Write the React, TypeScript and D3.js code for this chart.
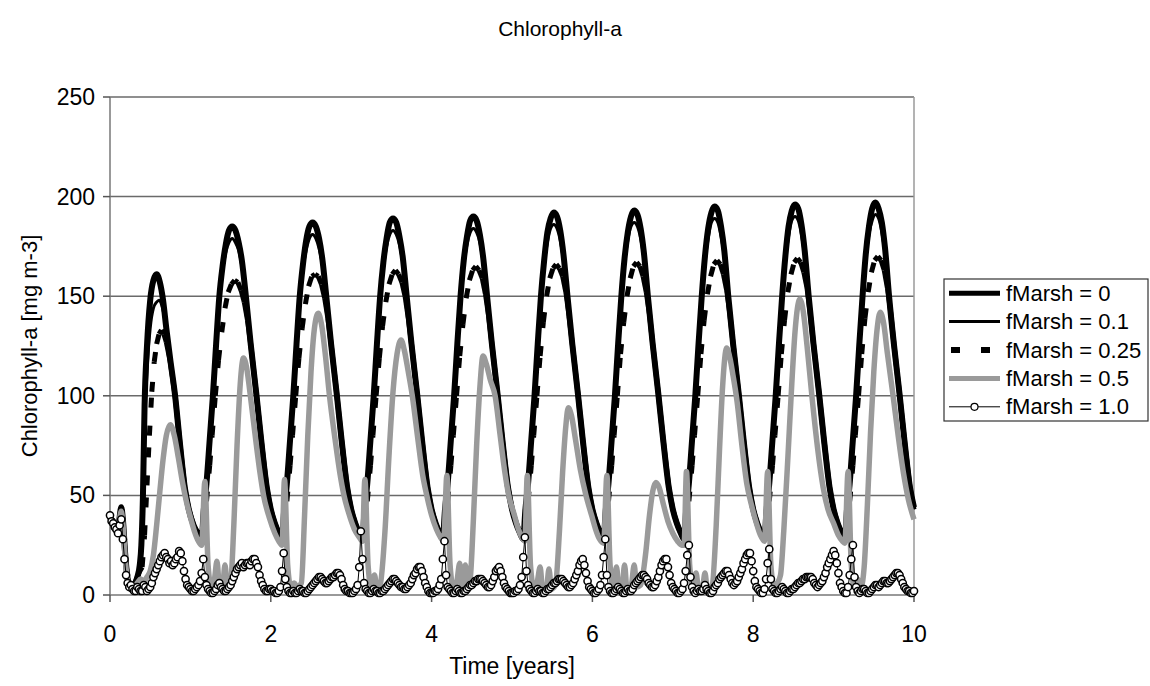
import React from 'react';
import * as d3 from 'd3';

// ---------------- DATA ----------------
const TITLE = 'Chlorophyll-a';
const X_LABEL = 'Time [years]';
const Y_LABEL = 'Chlorophyll-a [mg m-3]';
const X_TICKS = [0, 2, 4, 6, 8, 10];
const Y_TICKS = [0, 50, 100, 150, 200, 250];
const SERIES_NAMES = ['fMarsh = 0', 'fMarsh = 0.1', 'fMarsh = 0.25', 'fMarsh = 0.5', 'fMarsh = 1.0'];

// [time (years), chlorophyll-a]
const F0: number[][] = [
  [0,39],[0.04,35],[0.08,32],[0.11,36],[0.14,44],[0.16,38],[0.19,20],[0.22,8],[0.26,4],[0.3,5],[0.34,9],[0.37,15],[0.39,25],[0.41,50],[0.43,95],[0.46,125],[0.5,148],[0.54,158],[0.58,161],[0.62,157],[0.66,148],[0.7,134],[0.75,118],[0.81,100],[0.87,76],[0.93,54],[0.98,43],[1.04,35],[1.09,31],[1.14,28],
  [1.165,42],[1.2,56],[1.24,78],[1.28,100],[1.32,126],[1.36,150],[1.4,165],[1.44,176],[1.48,183],[1.52,185],[1.56,183],[1.6,177],[1.64,168],[1.69,150],[1.75,126],[1.82,101],[1.88,78],[1.95,54],[2,43],[2.05,36],[2.1,31],[2.14,28],
  [2.165,42],[2.2,56],[2.24,78],[2.28,100],[2.32,126],[2.36,150],[2.4,166],[2.44,178],[2.48,185],[2.52,187],[2.56,185],[2.6,179],[2.64,169],[2.69,150],[2.75,126],[2.82,101],[2.88,78],[2.95,54],[3,43],[3.05,36],[3.1,31],[3.14,28],
  [3.165,42],[3.2,56],[3.24,78],[3.28,100],[3.32,126],[3.36,150],[3.4,167],[3.44,179],[3.48,187],[3.52,189],[3.56,187],[3.6,180],[3.64,170],[3.69,150],[3.75,126],[3.82,101],[3.88,78],[3.95,54],[4,43],[4.05,36],[4.1,31],[4.14,28],
  [4.165,42],[4.2,56],[4.24,78],[4.28,100],[4.32,126],[4.36,150],[4.4,168],[4.44,180],[4.48,188],[4.52,190],[4.56,188],[4.6,181],[4.64,170],[4.69,150],[4.75,126],[4.82,101],[4.88,78],[4.95,54],[5,43],[5.05,36],[5.1,31],[5.14,28],
  [5.165,42],[5.2,56],[5.24,78],[5.28,100],[5.32,126],[5.36,150],[5.4,168],[5.44,182],[5.48,189],[5.52,192],[5.56,190],[5.6,183],[5.64,171],[5.69,150],[5.75,126],[5.82,101],[5.88,78],[5.95,54],[6,43],[6.05,36],[6.1,31],[6.14,28],
  [6.165,42],[6.2,56],[6.24,78],[6.28,100],[6.32,126],[6.36,150],[6.4,169],[6.44,182],[6.48,190],[6.52,193],[6.56,191],[6.6,184],[6.64,172],[6.69,150],[6.75,126],[6.82,101],[6.88,78],[6.95,54],[7,43],[7.05,36],[7.1,31],[7.14,28],
  [7.165,42],[7.2,56],[7.24,78],[7.28,100],[7.32,126],[7.36,150],[7.4,170],[7.44,184],[7.48,192],[7.52,195],[7.56,193],[7.6,185],[7.64,173],[7.69,150],[7.75,126],[7.82,101],[7.88,78],[7.95,54],[8,43],[8.05,36],[8.1,31],[8.14,28],
  [8.165,42],[8.2,56],[8.24,78],[8.28,100],[8.32,126],[8.36,150],[8.4,170],[8.44,185],[8.48,193],[8.52,196],[8.56,194],[8.6,186],[8.64,173],[8.69,150],[8.75,126],[8.82,101],[8.88,78],[8.95,54],[9,43],[9.05,36],[9.1,31],[9.14,28],
  [9.165,42],[9.2,56],[9.24,78],[9.28,100],[9.32,126],[9.36,150],[9.4,171],[9.44,185],[9.48,194],[9.52,197],[9.56,194],[9.6,187],[9.64,174],[9.69,150],[9.75,126],[9.82,101],[9.88,78],[9.95,54],[10,44],
];

const F01: number[][] = [
  [0,39],[0.04,35],[0.08,32],[0.11,36],[0.14,44],[0.16,38],[0.19,20],[0.22,8],[0.26,4],[0.3,5],[0.34,9],[0.37,15],[0.39,23],[0.41,45],[0.43,82],[0.46,112],[0.5,134],[0.54,144],[0.58,147],[0.61,148],[0.64,146],[0.67,141],[0.7,133],[0.75,118],[0.81,100],[0.87,76],[0.93,54],[0.98,43],[1.04,35],[1.09,31],[1.14,28],
  [1.165,41],[1.2,55],[1.24,77],[1.28,99],[1.32,125],[1.36,149],[1.4,163],[1.44,172],[1.48,177],[1.52,179],[1.56,177],[1.6,173],[1.64,165],[1.69,149],[1.75,125],[1.82,100],[1.88,77],[1.95,53],[2,43],[2.05,36],[2.1,31],[2.14,28],
  [2.165,41],[2.2,55],[2.24,77],[2.28,99],[2.32,125],[2.36,149],[2.4,164],[2.44,173],[2.48,179],[2.52,181],[2.56,179],[2.6,174],[2.64,166],[2.69,149],[2.75,125],[2.82,100],[2.88,77],[2.95,53],[3,43],[3.05,36],[3.1,31],[3.14,28],
  [3.165,41],[3.2,55],[3.24,77],[3.28,99],[3.32,125],[3.36,149],[3.4,164],[3.44,175],[3.48,181],[3.52,183],[3.56,181],[3.6,176],[3.64,167],[3.69,149],[3.75,125],[3.82,100],[3.88,77],[3.95,53],[4,43],[4.05,36],[4.1,31],[4.14,28],
  [4.165,41],[4.2,55],[4.24,77],[4.28,99],[4.32,125],[4.36,149],[4.4,165],[4.44,176],[4.48,182],[4.52,184],[4.56,182],[4.6,177],[4.64,167],[4.69,149],[4.75,125],[4.82,100],[4.88,77],[4.95,53],[5,43],[5.05,36],[5.1,31],[5.14,28],
  [5.165,41],[5.2,55],[5.24,77],[5.28,99],[5.32,125],[5.36,149],[5.4,166],[5.44,177],[5.48,184],[5.52,186],[5.56,184],[5.6,178],[5.64,168],[5.69,149],[5.75,125],[5.82,100],[5.88,77],[5.95,53],[6,43],[6.05,36],[6.1,31],[6.14,28],
  [6.165,41],[6.2,55],[6.24,77],[6.28,99],[6.32,125],[6.36,149],[6.4,166],[6.44,178],[6.48,185],[6.52,187],[6.56,185],[6.6,179],[6.64,169],[6.69,149],[6.75,125],[6.82,100],[6.88,77],[6.95,53],[7,43],[7.05,36],[7.1,31],[7.14,28],
  [7.165,41],[7.2,55],[7.24,77],[7.28,99],[7.32,125],[7.36,149],[7.4,167],[7.44,179],[7.48,187],[7.52,189],[7.56,187],[7.6,180],[7.64,170],[7.69,149],[7.75,125],[7.82,100],[7.88,77],[7.95,53],[8,43],[8.05,36],[8.1,31],[8.14,28],
  [8.165,41],[8.2,55],[8.24,77],[8.28,99],[8.32,125],[8.36,149],[8.4,168],[8.44,180],[8.48,188],[8.52,190],[8.56,188],[8.6,181],[8.64,170],[8.69,149],[8.75,125],[8.82,100],[8.88,77],[8.95,53],[9,43],[9.05,36],[9.1,31],[9.14,28],
  [9.165,41],[9.2,55],[9.24,77],[9.28,99],[9.32,125],[9.36,149],[9.4,168],[9.44,181],[9.48,188],[9.52,191],[9.56,189],[9.6,182],[9.64,171],[9.69,149],[9.75,125],[9.82,100],[9.88,77],[9.95,53],[10,43],
];

const F025: number[][] = [
  [0,39],[0.04,35],[0.08,32],[0.11,36],[0.14,44],[0.16,38],[0.19,20],[0.22,8],[0.26,4],[0.3,5],[0.34,9],[0.37,12],[0.4,14],[0.43,30],[0.46,55],[0.49,80],[0.52,102],[0.55,117],[0.58,126],[0.61,131],[0.64,133],[0.67,131],[0.7,127],[0.75,117],[0.81,100],[0.87,76],[0.93,54],[0.98,43],[1.04,35],[1.09,31],[1.14,28],
  [1.17,35],[1.2,47],[1.24,65],[1.27,80],[1.31,100],[1.35,118],[1.39,132],[1.43,144],[1.47,152],[1.51,156],[1.55,158],[1.59,157],[1.63,153],[1.67,147],[1.71,138],[1.75,126],[1.82,101],[1.88,78],[1.95,54],[2,43],[2.05,36],[2.1,31],[2.14,28],
  [2.17,35],[2.2,47],[2.24,65],[2.27,80],[2.31,100],[2.35,119],[2.39,134],[2.43,146],[2.47,155],[2.51,160],[2.55,161],[2.59,160],[2.63,156],[2.67,149],[2.71,139],[2.75,126],[2.82,101],[2.88,78],[2.95,54],[3,43],[3.05,36],[3.1,31],[3.14,28],
  [3.17,35],[3.2,47],[3.24,65],[3.27,80],[3.31,100],[3.35,119],[3.39,135],[3.43,147],[3.47,156],[3.51,161],[3.55,163],[3.59,161],[3.63,157],[3.67,150],[3.71,139],[3.75,126],[3.82,101],[3.88,78],[3.95,54],[4,43],[4.05,36],[4.1,31],[4.14,28],
  [4.17,35],[4.2,47],[4.24,65],[4.27,80],[4.31,100],[4.35,120],[4.39,136],[4.43,149],[4.47,158],[4.51,163],[4.55,165],[4.59,163],[4.63,159],[4.67,151],[4.71,140],[4.75,126],[4.82,101],[4.88,78],[4.95,54],[5,43],[5.05,36],[5.1,31],[5.14,28],
  [5.17,35],[5.2,47],[5.24,65],[5.27,80],[5.31,100],[5.35,120],[5.39,137],[5.43,150],[5.47,159],[5.51,164],[5.55,166],[5.59,164],[5.63,160],[5.67,152],[5.71,140],[5.75,126],[5.82,101],[5.88,78],[5.95,54],[6,43],[6.05,36],[6.1,31],[6.14,28],
  [6.17,35],[6.2,47],[6.24,65],[6.27,80],[6.31,100],[6.35,121],[6.39,137],[6.43,150],[6.47,159],[6.51,165],[6.55,167],[6.59,165],[6.63,160],[6.67,152],[6.71,141],[6.75,126],[6.82,101],[6.88,78],[6.95,54],[7,43],[7.05,36],[7.1,31],[7.14,28],
  [7.17,35],[7.2,47],[7.24,65],[7.27,80],[7.31,100],[7.35,121],[7.39,138],[7.43,151],[7.47,160],[7.51,166],[7.55,168],[7.59,166],[7.63,161],[7.67,153],[7.71,141],[7.75,126],[7.82,101],[7.88,78],[7.95,54],[8,43],[8.05,36],[8.1,31],[8.14,28],
  [8.17,35],[8.2,47],[8.24,65],[8.27,80],[8.31,100],[8.35,121],[8.39,138],[8.43,152],[8.47,161],[8.51,167],[8.55,169],[8.59,167],[8.63,162],[8.67,154],[8.71,141],[8.75,126],[8.82,101],[8.88,78],[8.95,54],[9,43],[9.05,36],[9.1,31],[9.14,28],
  [9.17,35],[9.2,47],[9.24,65],[9.27,80],[9.31,100],[9.35,121],[9.39,139],[9.43,152],[9.47,162],[9.51,168],[9.55,170],[9.59,168],[9.63,163],[9.67,154],[9.71,142],[9.75,126],[9.82,101],[9.88,78],[9.95,54],[10,43],
];

const F05: number[][] = [
  [0,39],[0.04,35],[0.08,32],[0.11,36],[0.14,42],[0.16,36],[0.19,18],[0.22,7],[0.26,3],[0.3,4],[0.34,6],[0.38,8],[0.42,7],[0.46,9],[0.5,12],[0.54,20],[0.58,35],[0.62,52],[0.66,68],[0.7,80],[0.75,85.5],[0.8,80],[0.85,69],[0.9,57],[0.95,47],[1,39],[1.05,32],[1.1,27],[1.14,25],
  [1.18,57],[1.22,15],[1.26,4],[1.3,8],[1.33,17],[1.36,5],[1.4,4],[1.43,15],[1.46,4],[1.5,6],[1.54,35],[1.58,75],[1.62,106],[1.66,119],[1.7,114],[1.74,102],[1.8,82],[1.86,63],[1.91,50],[1.98,39],[2.05,31],[2.1,27],[2.14,25],
  [2.17,58],[2.21,15],[2.25,4],[2.29,6],[2.33,4],[2.38,6],[2.42,40],[2.46,80],[2.5,112],[2.54,133],[2.59,141.5],[2.63,136],[2.68,120],[2.73,100],[2.8,78],[2.86,61],[2.91,50],[2.97,41],[3.04,33],[3.1,29],[3.14,27],
  [3.17,58],[3.21,15],[3.25,4],[3.29,10],[3.32,3],[3.36,5],[3.42,32],[3.47,70],[3.52,102],[3.57,121],[3.62,128],[3.66,123],[3.71,112],[3.76,100],[3.83,78],[3.89,60],[3.94,50],[4,40],[4.06,33],[4.11,29],[4.15,27],
  [4.19,60],[4.23,15],[4.27,4],[4.31,6],[4.35,16],[4.38,4],[4.42,15],[4.45,4],[4.48,8],[4.52,38],[4.56,75],[4.6,104],[4.64,120],[4.68,116],[4.73,108],[4.79,100],[4.85,81],[4.91,62],[4.96,50],[5.03,40],[5.08,33],[5.12,29],[5.16,27],
  [5.19,60],[5.23,15],[5.27,4],[5.31,6],[5.35,14],[5.38,3],[5.43,4],[5.46,13],[5.49,3],[5.54,5],[5.59,32],[5.63,62],[5.67,85],[5.7,94],[5.74,90],[5.79,78],[5.85,63],[5.92,50],[5.99,40],[6.04,33],[6.09,28],[6.14,26],
  [6.18,60],[6.22,15],[6.26,4],[6.3,14],[6.33,3],[6.37,4],[6.4,15],[6.43,3],[6.48,4],[6.52,15],[6.55,4],[6.6,5],[6.66,20],[6.71,40],[6.75,52],[6.79,56.5],[6.83,54],[6.88,46],[6.94,37],[7,31],[7.06,27],[7.11,25],[7.14,25],
  [7.17,62],[7.21,15],[7.25,4],[7.29,11],[7.32,3],[7.37,4],[7.4,11],[7.43,3],[7.49,5],[7.54,35],[7.58,72],[7.62,105],[7.67,124],[7.71,119],[7.75,110],[7.8,97],[7.86,75],[7.92,56],[7.98,45],[8.04,36],[8.09,30],[8.14,27],
  [8.18,62],[8.22,15],[8.26,4],[8.3,6],[8.34,10],[8.38,32],[8.43,68],[8.48,106],[8.52,132],[8.55,144],[8.58,148.5],[8.62,143],[8.67,125],[8.73,100],[8.8,74],[8.87,54],[8.93,43],[9,36],[9.06,30],[9.11,27],[9.14,26],
  [9.18,62],[9.22,15],[9.26,4],[9.3,8],[9.34,4],[9.38,14],[9.42,45],[9.46,82],[9.5,112],[9.54,133],[9.58,142],[9.62,137],[9.67,121],[9.74,100],[9.8,81],[9.87,61],[9.93,48],[10,38],
];

// fMarsh = 1.0, sampled every 0.02 years from t = 0 to t = 10 (one row per year)
const F10_STEP = 0.02;
const F10: number[] = [
  40,37,36,34,33,31,35,38,28,18,10,6,4,5,3,2,2,4,3,2,2,5,4,2,3,4,6,9,11,13,15,17,19,20,21,19,18,16,17,15,16,18,19,22,21,17,12,8,5,4,
  3,2,2,3,4,5,7,11,18,9,5,3,2,1,1,2,3,5,6,4,3,2,2,3,4,5,7,9,11,13,14,15,16,14,15,16,16,15,17,18,18,16,14,10,7,5,3,2,2,3,
  3,2,2,1,1,2,4,12,21,8,4,2,1,1,2,1,1,2,3,2,2,1,1,2,3,4,5,6,7,8,9,9,8,7,6,6,7,8,9,9,10,11,11,10,8,5,3,2,2,1,
  1,1,2,3,5,14,32,18,6,3,2,1,1,2,3,2,2,1,1,2,2,3,4,5,6,7,8,8,7,6,5,4,4,3,3,4,5,6,8,10,11,13,14,14,12,9,6,4,2,1,
  1,1,2,2,3,5,8,18,27,10,4,3,2,1,1,2,3,2,1,1,2,2,3,4,5,5,6,7,7,8,8,8,7,6,5,4,4,5,7,9,12,13,14,12,9,6,4,3,2,1,
  1,1,2,2,3,5,9,19,29,12,5,3,2,1,1,2,3,2,2,1,1,2,3,3,4,5,6,6,7,8,8,8,7,6,5,4,4,5,6,8,10,12,15,17,18,15,11,7,4,3,
  2,1,1,2,3,5,10,19,28,10,4,2,1,1,2,3,4,3,2,1,1,2,3,2,2,3,5,6,7,8,9,10,10,9,8,6,5,4,4,5,7,9,12,15,17,18,18,14,10,6,
  4,3,2,1,1,2,3,6,12,20,25,9,4,2,1,2,3,2,2,3,5,3,2,1,1,2,4,5,6,8,9,10,11,12,12,10,8,6,5,6,7,9,11,13,16,18,20,21,21,17,
  12,7,4,3,2,1,1,3,8,16,23,8,3,2,1,1,2,3,4,3,2,1,1,2,3,3,4,5,6,6,7,8,8,9,9,9,9,8,6,5,4,5,6,7,9,11,14,16,18,20,
  22,20,16,11,6,4,2,1,1,4,10,18,25,9,4,2,1,2,3,3,2,1,1,2,3,4,5,5,4,5,6,7,7,6,6,7,8,9,10,11,11,10,8,6,4,3,2,2,1,1,
  2,
];

// ---------------- CHART ----------------
const FONT = "'Liberation Sans', Arial, Helvetica, sans-serif";
const GRAY = '#9a9a9a';

export default function App() {
  const W = 1150, H = 686;
  const plot = { left: 110, right: 914, top: 97, bottom: 595 };
  const x = d3.scaleLinear().domain([0, 10]).range([plot.left, plot.right]);
  const y = d3.scaleLinear().domain([0, 250]).range([plot.bottom, plot.top]);

  const smooth = d3.line<number[]>().x(d => x(d[0])).y(d => y(d[1])).curve(d3.curveMonotoneX);
  const straight = d3.line<number[]>().x(d => x(d[0])).y(d => y(d[1]));

  const f10pts = F10.map((v, i) => [i * F10_STEP, v]);

  // dashed series: each rising segment restarts its dash (like the original renderer)
  const dashedSegs = d3.pairs(F025).map(([a, b], i) => (
    <path key={i} d={straight([a, b]) || ''} fill="none" stroke="#000" strokeWidth={5}
      strokeDasharray={b[1] > a[1] + 3 ? '10,18' : undefined} strokeLinecap="butt" />
  ));

  const legendX = 944, legendY = 279, legendW = 204, legendH = 142;
  const rowH = legendH / 5;

  return (
    <svg width={W} height={H} style={{ position: 'absolute', left: 0, top: 0, background: '#fff' }} fontFamily={FONT}>
      <rect x={0} y={0} width={W} height={H} fill="#fff" />
      {/* title */}
      <text x={560} y={36} textAnchor="middle" fontSize={21}>{TITLE}</text>

      {/* gridlines */}
      {Y_TICKS.filter(t => t > 0).map(t => (
        <line key={t} x1={plot.left} x2={plot.right} y1={y(t)} y2={y(t)} stroke="#6a6a6a" strokeWidth={1.5} />
      ))}
      {/* right border */}
      <line x1={plot.right} x2={plot.right} y1={plot.top} y2={plot.bottom} stroke="#9a9a9a" strokeWidth={1.5} />

      {/* axes */}
      <line x1={plot.left} x2={plot.left} y1={plot.top} y2={plot.bottom} stroke="#777" strokeWidth={1.5} />
      <line x1={plot.left} x2={plot.right} y1={plot.bottom} y2={plot.bottom} stroke="#777" strokeWidth={1.5} />
      {Y_TICKS.map(t => (
        <g key={t}>
          <line x1={plot.left - 7} x2={plot.left} y1={y(t)} y2={y(t)} stroke="#555" strokeWidth={1.5} />
          <text x={plot.left - 15} y={y(t)} textAnchor="end" dominantBaseline="central" fontSize={23}>{t}</text>
        </g>
      ))}
      {X_TICKS.map(t => (
        <g key={t}>
          <line x1={x(t)} x2={x(t)} y1={plot.bottom} y2={plot.bottom + 7} stroke="#555" strokeWidth={1.5} />
          <text x={x(t)} y={642} textAnchor="middle" fontSize={23}>{t}</text>
        </g>
      ))}

      {/* series */}
      <path d={smooth(F0) || ''} fill="none" stroke="#000" strokeWidth={6} strokeLinejoin="round" />
      <path d={smooth(F01) || ''} fill="none" stroke="#000" strokeWidth={3} strokeLinejoin="round" />
      {dashedSegs}
      <path d={smooth(F05) || ''} fill="none" stroke={GRAY} strokeWidth={5.5} strokeLinejoin="round" />
      <path d={straight(f10pts) || ''} fill="none" stroke="#000" strokeWidth={1} />
      {f10pts.map((d, i) => (
        <circle key={i} cx={x(d[0])} cy={y(d[1])} r={3.6} fill="#fff" stroke="#000" strokeWidth={1.5} />
      ))}

      {/* axis titles */}
      <text x={512} y={674} textAnchor="middle" fontSize={23}>{X_LABEL}</text>
      <text transform={`translate(29, ${(plot.top + plot.bottom) / 2}) rotate(-90)`} textAnchor="middle" dominantBaseline="central" fontSize={22}>{Y_LABEL}</text>

      {/* legend */}
      <rect x={legendX} y={legendY} width={legendW} height={legendH} fill="#fff" stroke="#333" strokeWidth={1.2} />
      {SERIES_NAMES.map((name, i) => {
        const cy = legendY + rowH * (i + 0.5);
        const x1 = legendX + 5, x2 = legendX + 56;
        let sample: React.ReactNode = null;
        if (i === 0) sample = <line x1={x1} x2={x2} y1={cy} y2={cy} stroke="#000" strokeWidth={5} />;
        if (i === 1) sample = <line x1={x1} x2={x2} y1={cy} y2={cy} stroke="#000" strokeWidth={3} />;
        if (i === 2) sample = <line x1={x1 + 2} x2={x2} y1={cy} y2={cy} stroke="#000" strokeWidth={6} strokeDasharray="9,21" />;
        if (i === 3) sample = <line x1={x1} x2={x2} y1={cy} y2={cy} stroke={GRAY} strokeWidth={5} />;
        if (i === 4) sample = (
          <g>
            <line x1={x1} x2={x2} y1={cy} y2={cy} stroke="#000" strokeWidth={1} />
            <circle cx={(x1 + x2) / 2} cy={cy} r={3.5} fill="#fff" stroke="#000" strokeWidth={1.2} />
          </g>
        );
        return (
          <g key={name}>
            {sample}
            <text x={legendX + 62} y={cy} dominantBaseline="central" fontSize={22}>{name}</text>
          </g>
        );
      })}
    </svg>
  );
}
